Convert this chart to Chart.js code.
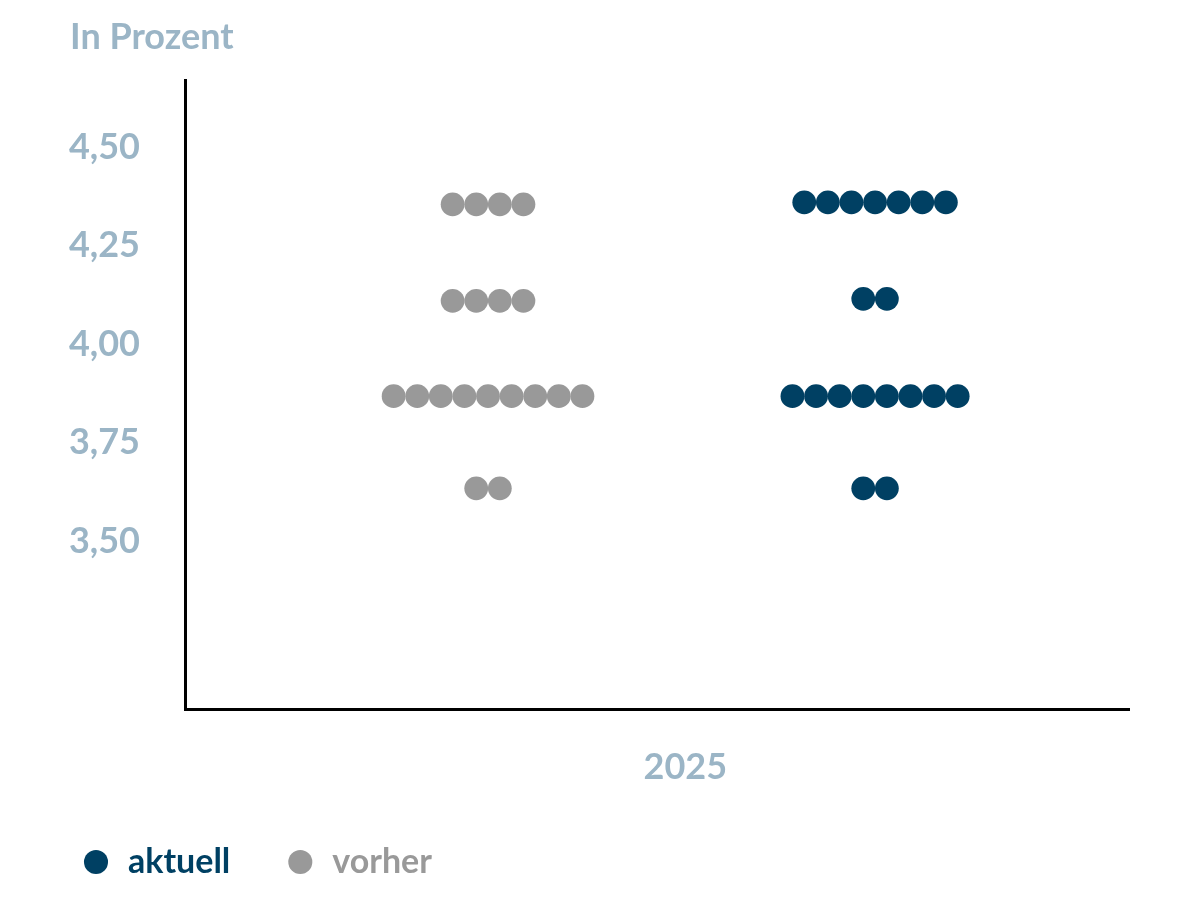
<!DOCTYPE html>
<html>
<head>
<meta charset="utf-8">
<script src="https://cdn.jsdelivr.net/npm/chart.js@4/dist/chart.umd.min.js"></script>
<style>
  html, body { margin: 0; padding: 0; background: #fff; }
</style>
</head>
<body>
<canvas id="dot-plot" width="1199" height="899"></canvas>
<script>
// data
const seriesNames = ["aktuell", "vorher"];
const levelsNow = [4.36, 4.115, 3.868, 3.634];
const countsNow = [7, 2, 8, 2];
const levelsBefore = [4.355, 4.11, 3.868, 3.634];
const countsBefore = [4, 4, 9, 2];
const yTicks = [3.5, 3.75, 4.0, 4.25, 4.5];
const xLabel = "2025";

const LABEL = "#9bb5c6";
const BLUE = "#004063";
const GREY = "#999999";

// one dot per count, side by side around a group centre (x unit = one dot)
const stackDots = (levels, counts, centre) => {
  const pts = [];
  levels.forEach((y, r) => {
    for (let i = 0; i < counts[r]; i++) {
      pts.push({ x: centre + i - (counts[r] - 1) / 2, y: y });
    }
  });
  return pts;
};

Chart.defaults.font.family = "Lato";
Chart.defaults.font.weight = "bold";

// title sits further right than the legend
const shiftTitle = {
  id: "shiftTitle",
  afterLayout(chart) {
    chart.titleBlock.left = 70;
  },
};

const config = {
  type: "scatter",
  data: {
    datasets: [
      {
        label: seriesNames[0],
        data: stackDots(levelsNow, countsNow, 29.24),
        backgroundColor: BLUE,
        borderWidth: 0,
        pointRadius: 11.9,
        pointHoverRadius: 11.9,
      },
      {
        label: seriesNames[1],
        data: stackDots(levelsBefore, countsBefore, 12.84),
        backgroundColor: GREY,
        borderWidth: 0,
        pointRadius: 11.9,
        pointHoverRadius: 11.9,
      },
    ],
  },
  options: {
    responsive: false,
    animation: false,
    layout: { padding: { left: 26, right: 70, top: 0, bottom: 10 } },
    plugins: {
      tooltip: { enabled: false },
      title: {
        display: true,
        text: "In Prozent",
        align: "start",
        color: LABEL,
        font: { size: 36, weight: "bold" },
        padding: { top: 16, bottom: 21 },
      },
      legend: {
        position: "bottom",
        align: "start",
        labels: {
          usePointStyle: true,
          boxWidth: 30,
          boxHeight: 17,
          padding: 55,
          font: { size: 34, weight: "bold" },
          generateLabels: (chart) =>
            chart.data.datasets.map((ds, i) => ({
              text: ds.label,
              fillStyle: ds.backgroundColor,
              strokeStyle: ds.backgroundColor,
              lineWidth: 0,
              pointStyle: "circle",
              fontColor: ds.backgroundColor,
              datasetIndex: i,
              hidden: false,
            })),
        },
      },
    },
    scales: {
      x: {
        type: "linear",
        min: 0,
        max: 40,
        grid: { display: false, drawTicks: false },
        border: { display: true, color: "#000", width: 3 },
        ticks: {
          color: LABEL,
          font: { size: 36, weight: "bold" },
          padding: 37,
          maxRotation: 0,
          callback: () => xLabel,
        },
        afterBuildTicks: (s) => { s.ticks = [{ value: 21.2 }]; },
        afterFit: (s) => {
          s.height = 81;
          s.paddingLeft = 0;
          s.paddingRight = 0;
        },
      },
      y: {
        type: "linear",
        min: 3.074,
        max: 4.67,
        grid: { display: false, drawTicks: false },
        border: { display: true, color: "#000", width: 3 },
        ticks: {
          color: LABEL,
          font: { size: 36, weight: "bold" },
          padding: 45,
          callback: (v) => v.toFixed(2).replace(".", ","),
        },
        afterBuildTicks: (s) => { s.ticks = yTicks.map((v) => ({ value: v })); },
        afterFit: (s) => {
          s.width = 159;
          s.paddingTop = 0;
          s.paddingBottom = 0;
        },
      },
    },
  },
  plugins: [shiftTitle],
};

const myChart = new Chart(document.getElementById("dot-plot"), config);
</script>
</body>
</html>
